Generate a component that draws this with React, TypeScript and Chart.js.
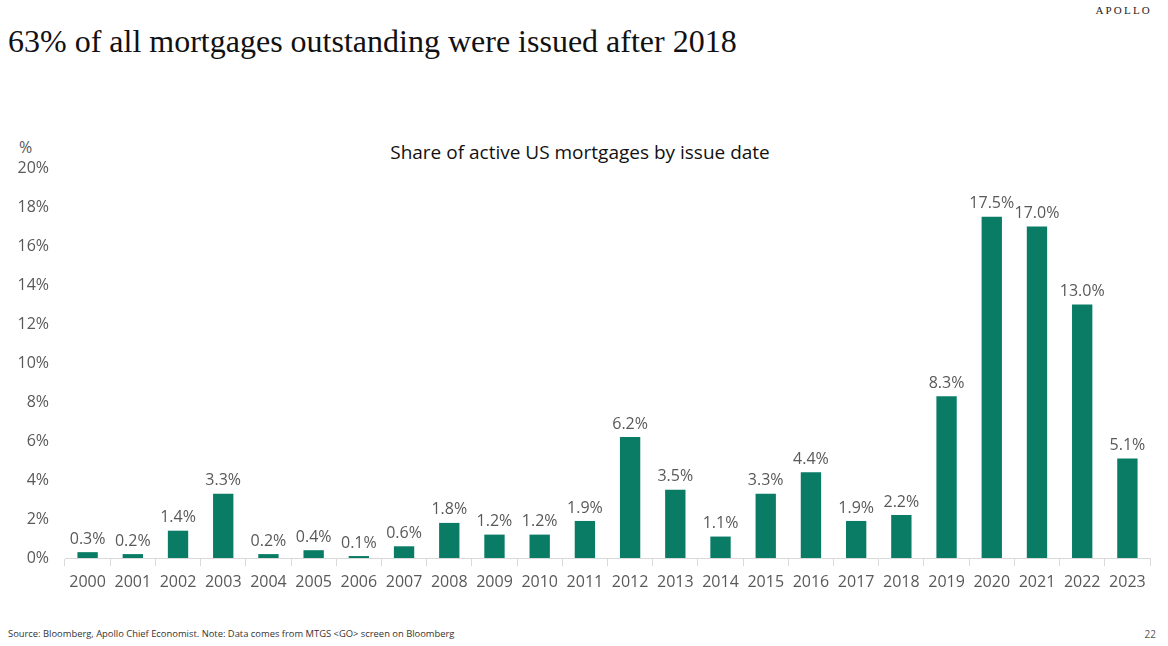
import React, { useEffect, useRef } from "react";
import { Chart, registerables } from "chart.js";

Chart.register(...registerables);

const years = ["2000","2001","2002","2003","2004","2005","2006","2007","2008","2009","2010","2011","2012","2013","2014","2015","2016","2017","2018","2019","2020","2021","2022","2023"];
const shares = [0.3,0.2,1.4,3.3,0.2,0.4,0.1,0.6,1.8,1.2,1.2,1.9,6.2,3.5,1.1,3.3,4.4,1.9,2.2,8.3,17.5,17.0,13.0,5.1];
const yTicks = [0,2,4,6,8,10,12,14,16,18,20];

const title = "63% of all mortgages outstanding were issued after 2018";
const chartTitle = "Share of active US mortgages by issue date";
const footnote = "Source: Bloomberg, Apollo Chief Economist. Note: Data comes from MTGS <GO> screen on Bloomberg";

const BAR = "#0A7C65";
const GRAY = "#595959";
const SANS = "'Open Sans', 'Noto Sans', sans-serif";

const labelPlugin = {
  id: "barLabels",
  afterDatasetsDraw(chart: any) {
    const ctx = chart.ctx;
    const meta = chart.getDatasetMeta(0);
    ctx.save();
    ctx.fillStyle = GRAY;
    ctx.font = `16px ${SANS}`;
    ctx.textAlign = "center";
    ctx.textBaseline = "bottom";
    meta.data.forEach((el: any, i: number) => {
      ctx.fillText(shares[i].toFixed(1) + "%", el.x, el.y - 5);
    });
    ctx.restore();
  },
};

export default function App() {
  const ref = useRef<HTMLCanvasElement | null>(null);
  useEffect(() => {
    const chart = new Chart(ref.current!, {
      type: "bar",
      data: {
        labels: years,
        datasets: [{ data: shares, backgroundColor: BAR, barPercentage: 0.45, categoryPercentage: 1 }],
      },
      options: {
        animation: false,
        responsive: false,
        devicePixelRatio: 1,
        layout: { padding: { top: 28, right: 18, bottom: 0, left: 0 } },
        plugins: { legend: { display: false }, tooltip: { enabled: false }, title: { display: false } },
        scales: {
          x: {
            grid: { drawOnChartArea: false, drawTicks: true, tickLength: 8, color: "#d9d9d9", offset: true },
            border: { display: true, color: "#d9d9d9" },
            ticks: { color: GRAY, font: { size: 16, family: SANS }, padding: 7, maxRotation: 0, autoSkip: false },
            afterFit: (s: any) => { s.height = 42; },
          },
          y: {
            min: 0,
            max: 20,
            afterBuildTicks: (s: any) => { s.ticks = yTicks.map((v) => ({ value: v })); },
            grid: { display: false },
            border: { display: false },
            ticks: { color: GRAY, font: { size: 16, family: SANS }, padding: 8, callback: (v: any) => v + "%" },
            afterFit: (s: any) => { s.width = 65; },
          },
        },
      },
      plugins: [labelPlugin],
    });
    return () => chart.destroy();
  }, []);

  return (
    <div style={{ position: "absolute", left: 0, top: 0, width: 1168, height: 646, background: "#fff", overflow: "hidden" }}>
      <div style={{ position: "absolute", right: 16, top: 4, fontFamily: "'Liberation Serif', serif", fontSize: 11, letterSpacing: 2.2, color: "#222" }}>APOLLO</div>
      <div style={{ position: "absolute", left: 8, top: 23, fontFamily: "'Liberation Serif', serif", fontSize: 32, color: "#111", whiteSpace: "nowrap" }}>{title}</div>
      <div style={{ position: "absolute", left: 0, width: 1160, top: 139, textAlign: "center", fontFamily: SANS, fontSize: 19, color: "#111" }}>{chartTitle}</div>
      <div style={{ position: "absolute", left: 19, top: 136, fontFamily: SANS, fontSize: 16, color: GRAY }}>%</div>
      <canvas ref={ref} width={1168} height={460} style={{ position: "absolute", left: 0, top: 140, width: 1168, height: 460 }} />
      <div style={{ position: "absolute", left: 8, top: 627, fontFamily: SANS, fontSize: 9.4, color: "#333", whiteSpace: "nowrap" }}>{footnote}</div>
      <div style={{ position: "absolute", right: 12, top: 627, fontFamily: SANS, fontSize: 10, color: "#555" }}>22</div>
    </div>
  );
}
